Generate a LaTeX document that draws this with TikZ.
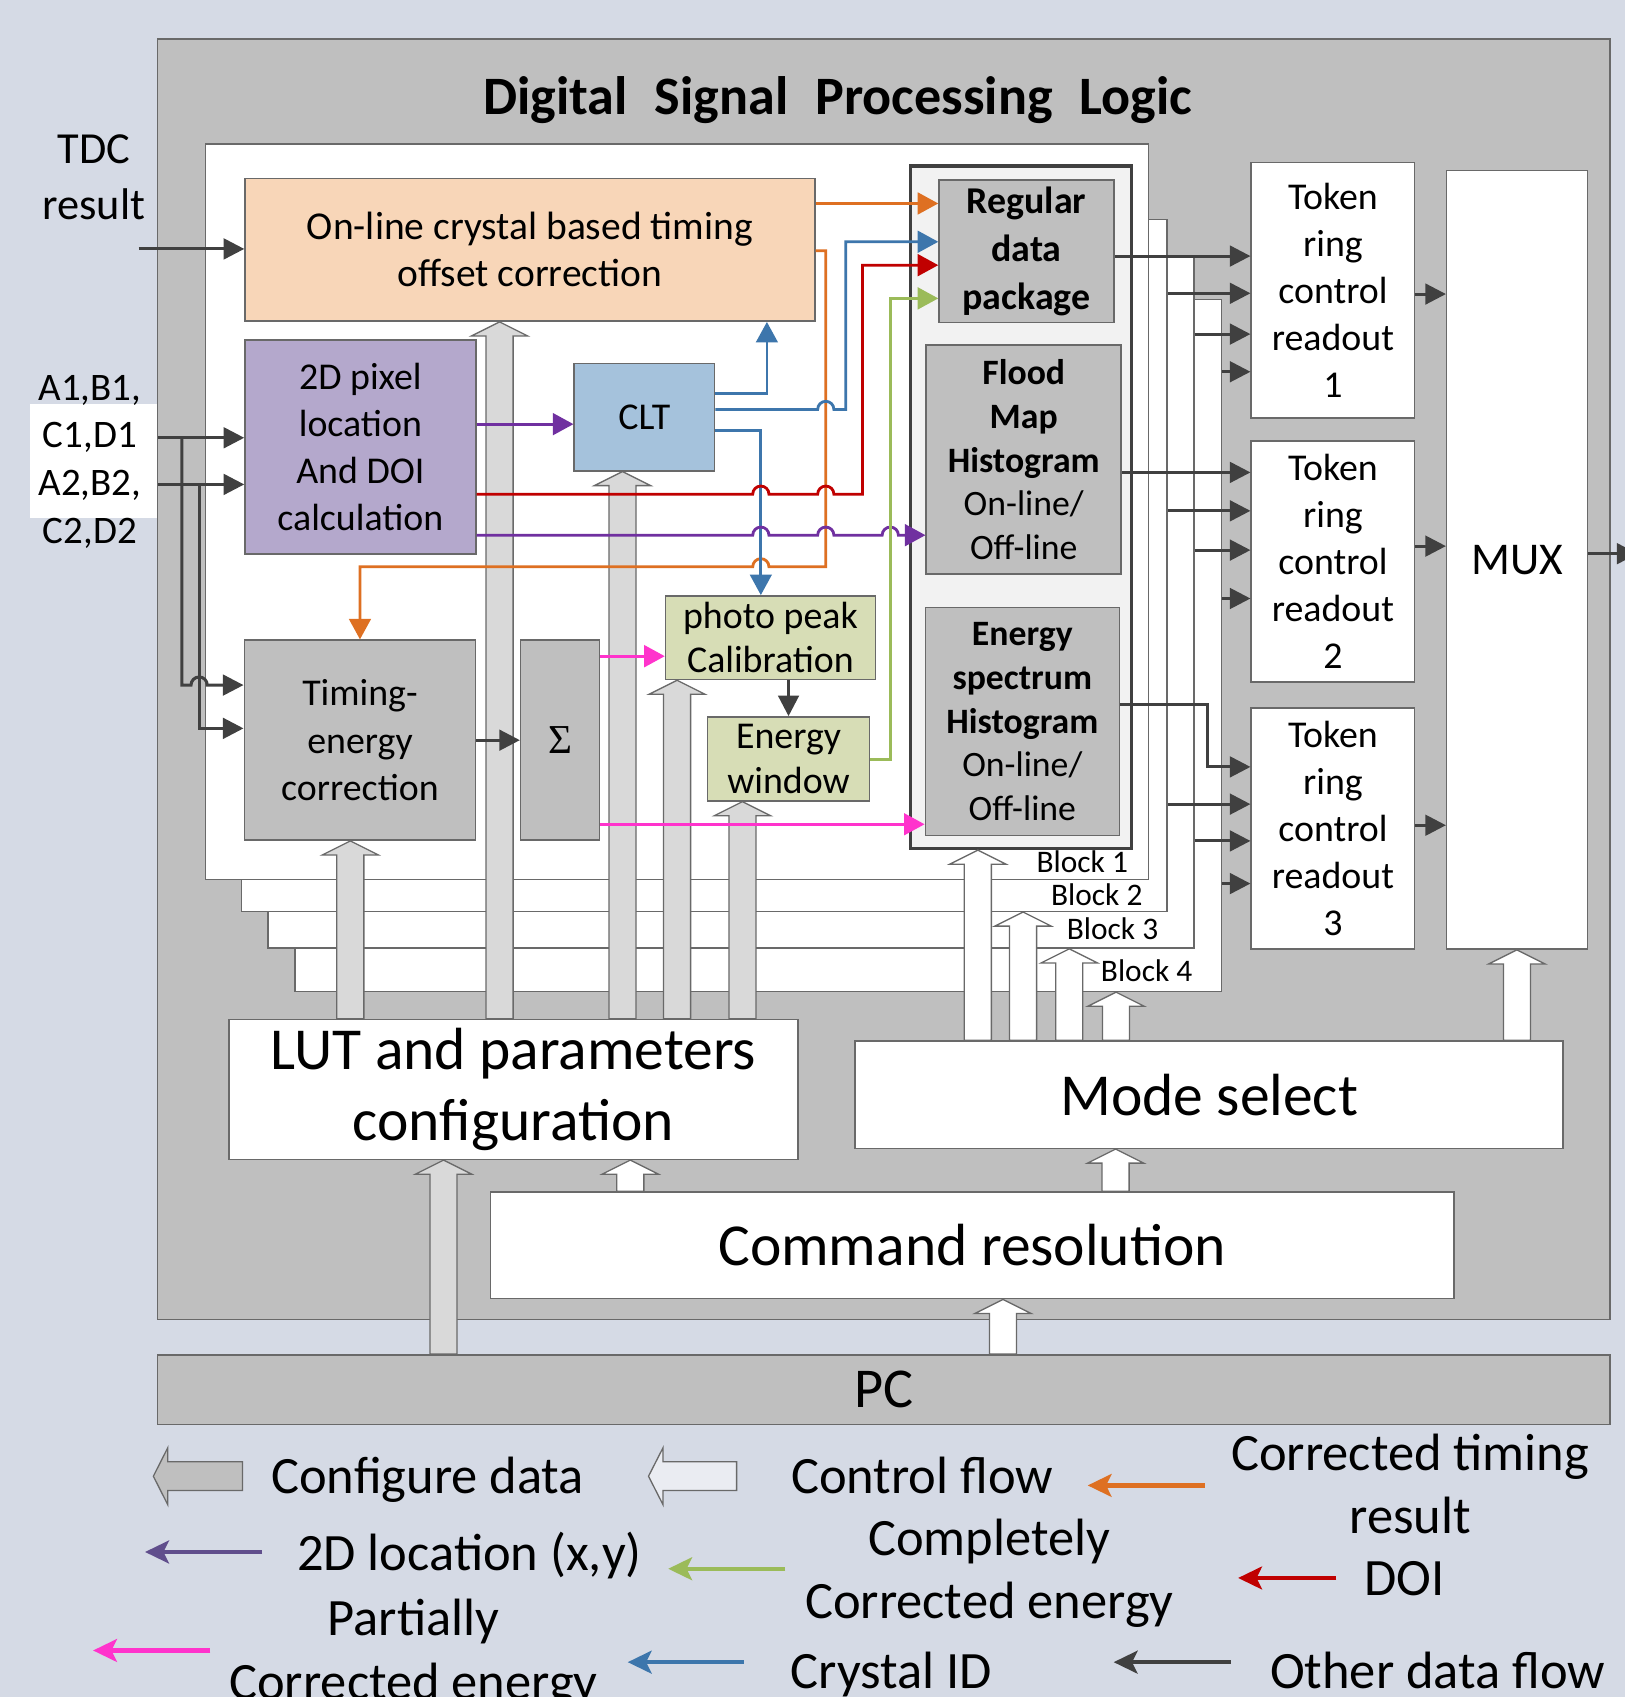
\documentclass[tikz,border=0pt]{standalone}
\usepackage{fontspec}
\setmainfont{Carlito}
\newfontfamily\titlefont{Carlito}[WordSpace=2.2]
\newfontfamily\sigmafont{Liberation Serif}
\usetikzlibrary{arrows.meta, positioning, calc}

\definecolor{bgblue}{RGB}{213,218,229}
\definecolor{dspgray}{RGB}{191,191,191}
\definecolor{edgegray}{RGB}{105,105,105}
\definecolor{dgray}{RGB}{64,64,64}
\definecolor{offsetfill}{RGB}{248,214,184}
\definecolor{pixfill}{RGB}{180,168,204}
\definecolor{cltfill}{RGB}{165,194,220}
\definecolor{calfill}{RGB}{215,221,182}
\definecolor{histfill}{RGB}{242,242,242}
\definecolor{cfgfill}{RGB}{217,217,217}
\definecolor{corange}{RGB}{222,112,34}
\definecolor{cblue}{RGB}{61,118,172}
\definecolor{cred}{RGB}{192,0,0}
\definecolor{cpurple}{RGB}{112,48,160}
\definecolor{cgreen}{RGB}{155,187,89}
\definecolor{cpink}{RGB}{255,51,204}
\definecolor{legpurple}{RGB}{96,78,140}

\begin{document}
\begin{tikzpicture}[x=1pt, y=-1pt,
  box/.style={draw=edgegray, line width=1.4pt, inner sep=0pt, align=center,
    font=\fontsize{35}{43.5}\selectfont},
  bigbox/.style={box, fill=white, font=\fontsize{55}{65}\selectfont},
  tokbox/.style={box, fill=white, minimum width=151pt},
  histbox/.style={box, fill=dspgray, font=\fontsize{33}{40.3}\selectfont},
  panel/.style={draw=edgegray, line width=1.4pt, fill=white, inner sep=0pt},
  blocklbl/.style={font=\fontsize{29}{34}\selectfont, anchor=base east},
  darr/.style={draw=dgray, line width=2.8pt, -{Triangle[length=19pt,width=19pt]}},
  carr/.style={line width=2.6pt, -{Triangle[length=19pt,width=20pt]}},
  legarr/.style={line width=4pt, -{Stealth[length=22pt,width=21pt,inset=5pt]}},
  legtxt/.style={font=\fontsize{48.5}{58.5}\selectfont, align=center},
  upblock/.style={draw=edgegray, line width=1.2pt, to path={
    let \p1=(\tikztostart), \p2=(\tikztotarget) in
    (\x1-12.5pt,\y1) -- (\x1-12.5pt,\y2-13pt) -- (\x1-26pt,\y2-13pt) -- (\x1,\y2)
    -- (\x1+26pt,\y2-13pt) -- (\x1+12.5pt,\y2-13pt) -- (\x1+12.5pt,\y1) -- cycle}},
  cfgup/.style={upblock, fill=cfgfill},
  ctlup/.style={upblock, fill=white}]

\fill[bgblue] (0,0) rectangle (1501,1568);
\useasboundingbox (0,0) rectangle (1501,1568);
\fill[white] (28,373) rectangle (146,479);

% frame of the DSP logic
\node[draw=edgegray, line width=1.4pt, fill=dspgray, minimum width=1342pt, minimum height=1183pt] (dsp) at (816.6,627.5) {};
\node[font=\titlefont\fontsize{50}{60}\selectfont\bfseries, anchor=base] (title) at (774,106) {Digital Signal Processing Logic};

% stacked blocks
\node[panel, minimum width=855.9pt, minimum height=639.4pt] (blk4) at (700.55,596.3) {};
\node[panel, minimum width=855.6pt, minimum height=638.8pt] (blk3) at (675.2,556.6) {};
\node[panel, minimum width=855.5pt, minimum height=639.3pt] (blk2) at (650.75,522.35) {};
\node[panel, minimum width=871pt, minimum height=679.5pt] (blk1) at (625.5,472.9) {};
\node[blocklbl] (lbl1) at ([xshift=-16pt,yshift=7pt]blk1.south east) {Block 1};
\node[blocklbl] (lbl2) at ([xshift=-20pt,yshift=6pt]blk2.south east) {Block 2};
\node[blocklbl] (lbl3) at ([xshift=-30pt,yshift=9pt]blk3.south east) {Block 3};
\node[blocklbl] (lbl4) at ([xshift=-24pt,yshift=10pt]blk4.south east) {Block 4};

% processing boxes
\node[box, fill=offsetfill, minimum width=526.4pt, minimum height=131.9pt, font=\fontsize{36.5}{43.5}\selectfont] (offset) at (489.6,230.8) {On-line crystal based timing\\offset correction};
\node[box, fill=pixfill, minimum width=213.3pt, minimum height=197.8pt] (pix) at (333,413.1) {2D pixel\\location\\And DOI\\calculation};
\node[box, fill=cltfill, minimum width=129.7pt, minimum height=99.2pt] (clt) at (595.4,385.4) {CLT};
\node[box, fill=dspgray, minimum width=213.8pt, minimum height=184.8pt] (tec) at (332.6,683.9) {Timing-\\energy\\correction};
\node[box, fill=dspgray, minimum width=72.9pt, minimum height=184.8pt, font=\sigmafont\fontsize{38}{40}\selectfont] (sigma) at (517.5,683.9) {Σ};
\node[box, fill=calfill, minimum width=193.9pt, minimum height=77.3pt, font=\fontsize{35}{41}\selectfont] (peak) at (711.9,589.2) {photo peak\\Calibration};
\node[box, fill=calfill, minimum width=149.8pt, minimum height=77.6pt, font=\fontsize{35}{41}\selectfont] (ewin) at (728.6,701.2) {Energy\\window};

% histogram column
\node[draw=dgray, line width=3pt, fill=histfill, minimum width=204pt, minimum height=630.6pt] (hist) at (943.3,468.7) {};
\node[box, fill=dspgray, minimum width=161.7pt, minimum height=131.8pt, font=\fontsize{35}{44}\selectfont\bfseries] (rdp) at (948.5,232.3) {Regular\\data\\package};
\node[histbox, minimum width=180.2pt, minimum height=211.6pt] (flood) at (945.9,424.7) {\textbf{Flood}\\\textbf{Map}\\\textbf{Histogram}\\On-line/\\Off-line};
\node[histbox, minimum width=179.2pt, minimum height=210.7pt] (espec) at (944.6,666.7) {\textbf{Energy}\\\textbf{spectrum}\\\textbf{Histogram}\\On-line/\\Off-line};

% readout side
\node[tokbox, minimum height=235.7pt] (tok1) at (1231.6,268.2) {Token\\ring\\control\\readout\\1};
\node[tokbox, minimum height=222.7pt] (tok2) at (1231.6,518.7) {Token\\ring\\control\\readout\\2};
\node[tokbox, minimum height=223pt] (tok3) at (1231.6,765.5) {Token\\ring\\control\\readout\\3};
\node[box, fill=white, minimum width=130pt, minimum height=719.3pt, font=\fontsize{42}{50}\selectfont] (mux) at (1401.7,517.3) {MUX};

% configuration and control
\node[bigbox, minimum width=525.6pt, minimum height=129.2pt] (lut) at (474.4,1006.6) {LUT and parameters\\configuration};
\node[bigbox, minimum width=654pt, minimum height=99.2pt] (mode) at (1117.2,1011.4) {Mode select};
\node[bigbox, minimum width=890.3pt, minimum height=98.5pt] (cmd) at (898.3,1150.7) {Command resolution};
\node[bigbox, fill=dspgray, minimum width=1342pt, minimum height=64.3pt, font=\fontsize{52}{60}\selectfont] (pc) at (816.6,1283.9) {PC};

% inputs (base anchor sits on the last line)
\node[font=\fontsize{41}{51.5}\selectfont, align=center, anchor=base] (tdc) at (86.7,202.7) {TDC\\result};
\node[font=\fontsize{36}{44.1}\selectfont, align=center, anchor=base] (adc) at (83,502) {A1,B1,\\C1,D1\\A2,B2,\\C2,D2};

% configure data and control flow
\draw[cfgup] (lut.north -| 323.7,0) to (tec.south -| 323.7,0);
\draw[cfgup] (lut.north -| 461.6,0) to (offset.south -| 461.6,0);
\draw[cfgup] (lut.north -| 575.2,0) to (clt.south -| 575.2,0);
\draw[cfgup] (lut.north -| 625.6,0) to (peak.south -| 625.6,0);
\draw[cfgup] (lut.north -| 686,0) to (ewin.south -| 686,0);
\draw[cfgup] (pc.north -| 409.8,0) to (lut.south -| 409.8,0);
\draw[ctlup] (cmd.north -| 582.4,0) to (lut.south -| 582.4,0);
\draw[ctlup] (cmd.north -| 1030.8,0) to (mode.south -| 1030.8,0);
\draw[ctlup] (pc.north -| 926.8,0) to (cmd.south -| 926.8,0);
\draw[ctlup] (mode.north -| 1401.6,0) to (mux.south -| 1401.6,0);
\draw[ctlup] (mode.north -| 903.5,0) to (hist.south -| 903.5,0);
\draw[ctlup] (mode.north -| 945.3,0) to (blk2.south -| 945.3,0);
\draw[ctlup] (mode.north -| 988,0) to (blk3.south -| 988,0);
\draw[ctlup] (mode.north -| 1031.2,0) to (blk4.south -| 1031.2,0);

% data paths
\coordinate (tdcin) at (128,230);
\coordinate (ain1) at (146,404.5);
\coordinate (ain2) at (146,447.6);
\draw[darr] (tdcin) -- (offset.west |- tdcin);
\draw[darr] (ain1) -- (pix.west |- ain1);
\draw[darr] (ain2) -- (pix.west |- ain2);
\draw[darr] (ain1 -| 168,0) -- (168,633) -- (176.5,633) arc[start angle=180, end angle=0, radius=7.5pt] -- (tec.west |- 0,633);
\draw[darr] (ain2 -| 184,0) -- (184,673) -- (tec.west |- 0,673);
\draw[darr] (tec.east) -- (sigma.west);
\draw[darr] (peak.south -| ewin.north) -- (ewin.north);

\draw[carr, corange] (offset.east |- 0,188) -- (rdp.west |- 0,188);
\draw[carr, corange] (offset.east |- 0,231.7) -- (763,231.7) -- (763,523.7) -- (710.5,523.7)
  arc[start angle=0, end angle=180, radius=7.5pt] -- (tec.north |- 0,523.7) -- (tec.north);
\draw[carr, cblue] (clt.east |- 0,363.5) -- (708.6,363.5) -- (offset.south -| 708.6,0);
\draw[carr, cblue] (clt.east |- 0,378.3) -- (755.5,378.3) arc[start angle=180, end angle=0, radius=7.5pt]
  -- (781.5,378.3) -- (781.5,223.4) -- (rdp.west |- 0,223.4);
\draw[carr, cblue] (clt.east |- 0,398) -- (703,398) -- (peak.north -| 703,0);
\draw[carr, cred] (pix.east |- 0,456.6) -- (695.5,456.6) arc[start angle=180, end angle=0, radius=7.5pt]
  -- (755.5,456.6) arc[start angle=180, end angle=0, radius=7.5pt] -- (797,456.6) -- (797,245) -- (rdp.west |- 0,245);
\draw[carr, cpurple] (pix.east |- 0,391.9) -- (clt.west |- 0,391.9);
\draw[carr, cpurple] (pix.east |- 0,494.5) -- (695.5,494.5) arc[start angle=180, end angle=0, radius=7.5pt]
  -- (755.5,494.5) arc[start angle=180, end angle=0, radius=7.5pt]
  -- (815.1,494.5) arc[start angle=180, end angle=0, radius=7.5pt] -- (flood.west |- 0,494.5);
\draw[carr, cgreen] (ewin.east |- 0,701.6) -- (822.6,701.6) -- (822.6,275.7) -- (rdp.west |- 0,275.7);
\draw[carr, cpink] (sigma.east |- 0,606.3) -- (peak.west |- 0,606.3);
\draw[carr, cpink] (sigma.east |- 0,761.6) -- (espec.west |- 0,761.6);

% into the token rings
\draw[darr] (rdp.east |- 0,236.6) -- (tok1.west |- 0,236.6);
\draw[darr] (flood.east |- 0,436.5) -- (tok2.west |- 0,436.5);
\draw[darr] (espec.east |- 0,650.7) -- (1116,650.7) -- (1116,708.6) -- (tok3.west |- 0,708.6);
\foreach \blk/\ya/\yb/\yc in {blk2/271/472/743, blk3/308.7/508.3/777, blk4/343.5/553/816.4} {
  \draw[darr] (\blk.east |- 0,\ya) -- (tok1.west |- 0,\ya);
  \draw[darr] (\blk.east |- 0,\yb) -- (tok2.west |- 0,\yb);
  \draw[darr] (\blk.east |- 0,\yc) -- (tok3.west |- 0,\yc);
}
\draw[darr] (tok1.east |- 0,271.7) -- (mux.west |- 0,271.7);
\draw[darr] (tok2.east |- 0,504.6) -- (mux.west |- 0,504.6);
\draw[darr] (tok3.east |- 0,762.5) -- (mux.west |- 0,762.5);
\coordinate (muxout) at (1513,511.6);
\draw[darr] (mux.east |- muxout) -- (muxout);

% legend
\filldraw[draw=edgegray, fill=dspgray, line width=1.2pt] (224,1350.6) -- (155,1350.6) -- (155,1337.7) -- (141.7,1364)
  -- (155,1390.3) -- (155,1377.1) -- (224,1377.1) -- cycle;
\filldraw[draw=edgegray, fill=white!50!bgblue, line width=1.2pt] (680.6,1350.6) -- (612.6,1350.6) -- (612.6,1337.7) -- (599.2,1364)
  -- (612.6,1390.3) -- (612.6,1377.1) -- (680.6,1377.1) -- cycle;
\draw[legarr, corange] (1113.3,1372.5) -- (1005,1372.5);
\draw[legarr, legpurple] (242.2,1434) -- (134,1434);
\draw[legarr, cgreen] (725.6,1449.5) -- (617.4,1449.5);
\draw[legarr, cred] (1234.8,1458) -- (1144,1458);
\draw[legarr, cpink] (194.3,1525) -- (86,1525);
\draw[legarr, cblue] (687.3,1535.8) -- (580,1535.8);
\draw[legarr, dgray] (1137,1535.8) -- (1029,1535.8);

\node[legtxt, anchor=base west] (lgcfg) at (247,1380) {Configure data};
\node[legtxt, anchor=base west] (lgctl) at (727.5,1380) {Control flow};
\node[legtxt, anchor=base] (lgtim) at (1303,1417) {Corrected timing\\result};
\node[legtxt, anchor=base west] (lgloc) at (271,1451) {2D location (x,y)};
\node[legtxt, anchor=base] (lgcomp) at (914,1495.7) {Completely\\Corrected energy};
\node[legtxt, anchor=base] (lgdoi) at (1298,1474) {DOI};
\node[legtxt, anchor=base] (lgpart) at (382,1570) {Partially\\Corrected energy};
\node[legtxt, anchor=base west] (lgcid) at (727,1560) {Crystal ID};
\node[legtxt, anchor=base west] (lgoth) at (1170,1560) {Other data flow};
\end{tikzpicture}
\end{document}
